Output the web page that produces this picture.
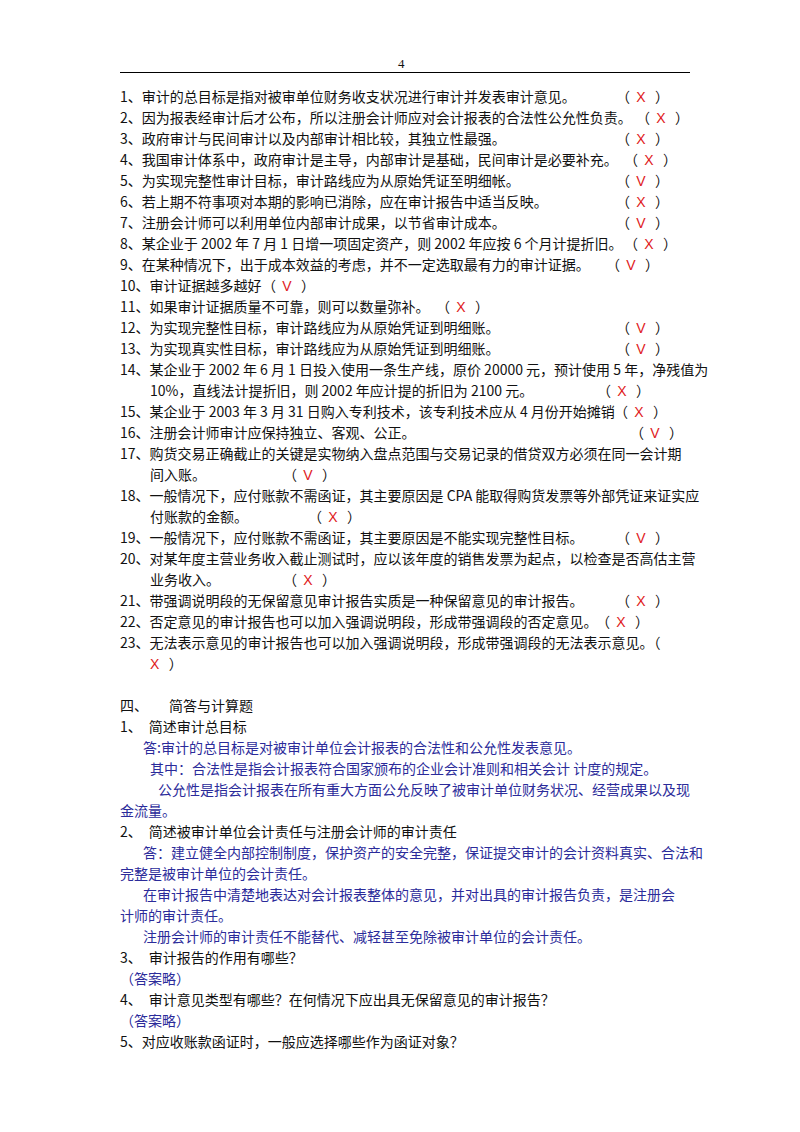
<!DOCTYPE html>
<html><head><meta charset="utf-8">
<script src="https://cdn.jsdelivr.net/npm/chart.js@4.4.0/dist/chart.umd.min.js"></script>
<style>
body{margin:0;background:#fff;width:800px;height:1132px;position:relative;overflow:hidden;
font-family:"Noto Sans CJK SC","DejaVu Sans",sans-serif;font-size:14px;color:#111}
.ln{position:absolute;white-space:nowrap;line-height:18px}
.b{color:#2b2b9a}
.m{position:absolute;white-space:pre;line-height:18px}
.m i{font-style:normal;color:#e0201c;font-family:"Liberation Sans",sans-serif}
#hdr{position:absolute;top:56px;left:398px;font-family:"Liberation Serif";font-size:13px}
#rule{position:absolute;top:72px;left:120px;width:570px;border-top:1px solid #000}
</style></head><body>
<div id="hdr">4</div><div id="rule"></div>
<div id="page"></div>
<script>
// lines: [text, left, blue]
const lines = [
 ["1、审计的总目标是指对被审单位财务收支状况进行审计并发表审计意见。",120],
 ["2、因为报表经审计后才公布，所以注册会计师应对会计报表的合法性公允性负责。",120],
 ["3、政府审计与民间审计以及内部审计相比较，其独立性最强。",120],
 ["4、我国审计体系中，政府审计是主导，内部审计是基础，民间审计是必要补充。",120],
 ["5、为实现完整性审计目标，审计路线应为从原始凭证至明细帐。",120],
 ["6、若上期不符事项对本期的影响已消除，应在审计报告中适当反映。",120],
 ["7、注册会计师可以利用单位内部审计成果，以节省审计成本。",120],
 ["8、某企业于 2002 年 7 月 1 日增一项固定资产，则 2002 年应按 6 个月计提折旧。",120],
 ["9、在某种情况下，出于成本效益的考虑，并不一定选取最有力的审计证据。",120],
 ["10、审计证据越多越好",120],
 ["11、如果审计证据质量不可靠，则可以数量弥补。",120],
 ["12、为实现完整性目标，审计路线应为从原始凭证到明细账。",120],
 ["13、为实现真实性目标，审计路线应为从原始凭证到明细账。",120],
 ["14、某企业于 2002 年 6 月 1 日投入使用一条生产线，原价 20000 元，预计使用 5 年，净残值为",120],
 ["10%，直线法计提折旧，则 2002 年应计提的折旧为 2100 元。",150],
 ["15、某企业于 2003 年 3 月 31 日购入专利技术，该专利技术应从 4 月份开始摊销",120],
 ["16、注册会计师审计应保持独立、客观、公正。",120],
 ["17、购货交易正确截止的关键是实物纳入盘点范围与交易记录的借贷双方必须在同一会计期",120],
 ["间入账。",150],
 ["18、一般情况下，应付账款不需函证，其主要原因是 CPA 能取得购货发票等外部凭证来证实应",120],
 ["付账款的金额。",150],
 ["19、一般情况下，应付账款不需函证，其主要原因是不能实现完整性目标。",120],
 ["20、对某年度主营业务收入截止测试时，应以该年度的销售发票为起点，以检查是否高估主营",120],
 ["业务收入。",150],
 ["21、带强调说明段的无保留意见审计报告实质是一种保留意见的审计报告。",120],
 ["22、否定意见的审计报告也可以加入强调说明段，形成带强调段的否定意见。",120],
 ["23、无法表示意见的审计报告也可以加入强调说明段，形成带强调段的无法表示意见。（",120],
 ["",150],
 ["",120],
 ["四、　　简答与计算题",120],
 ["1、　简述审计总目标",120],
 ["答:审计的总目标是对被审计单位会计报表的合法性和公允性发表意见。",143,1],
 ["其中：合法性是指会计报表符合国家颁布的企业会计准则和相关会计  计度的规定。",150,1],
 ["公允性是指会计报表在所有重大方面公允反映了被审计单位财务状况、经营成果以及现",158,1],
 ["金流量。",120,1],
 ["2、　简述被审计单位会计责任与注册会计师的审计责任",120],
 ["答：建立健全内部控制制度，保护资产的安全完整，保证提交审计的会计资料真实、合法和",143,1],
 ["完整是被审计单位的会计责任。",120,1],
 ["在审计报告中清楚地表达对会计报表整体的意见，并对出具的审计报告负责，是注册会",143,1],
 ["计师的审计责任。",120,1],
 ["注册会计师的审计责任不能替代、减轻甚至免除被审计单位的会计责任。",143,1],
 ["3、　审计报告的作用有哪些？",120],
 ["（答案略）",120,1],
 ["4、　审计意见类型有哪些？在何情况下应出具无保留意见的审计报告？",120],
 ["（答案略）",120,1],
 ["5、对应收账款函证时，一般应选择哪些作为函证对象？",120]
];
// marks: [line index, left, symbol]
const marks = [
 [0,616,"X"],[1,636,"X"],[2,616,"X"],[3,624,"X"],[4,616,"V"],[5,616,"X"],[6,616,"V"],
 [7,624,"X"],[8,606,"V"],[9,262,"V"],[10,436,"X"],[11,616,"V"],[12,616,"V"],[14,597,"X"],
 [15,614,"X"],[16,630,"V"],[18,283,"V"],[20,308,"X"],[21,616,"V"],[23,283,"X"],
 [24,616,"X"],[25,596,"X"],[27,150,"X",1]
];
const page = document.getElementById('page');
const top0 = 87, lh = 21;
lines.forEach(([t, left, blue], i) => {
  const d = document.createElement('div');
  d.className = 'ln' + (blue ? ' b' : '');
  d.style.top = (top0 + i * lh) + 'px';
  d.style.left = left + 'px';
  d.textContent = t;
  page.appendChild(d);
});
marks.forEach(([i, left, s, noOpen]) => {
  const d = document.createElement('div');
  d.className = 'm';
  d.style.top = (top0 + i * lh) + 'px';
  d.style.left = left + 'px';
  d.innerHTML = (noOpen ? '' : '（  ') + '<i>' + s + '</i>   ）';
  page.appendChild(d);
});
</script>
</body></html>
